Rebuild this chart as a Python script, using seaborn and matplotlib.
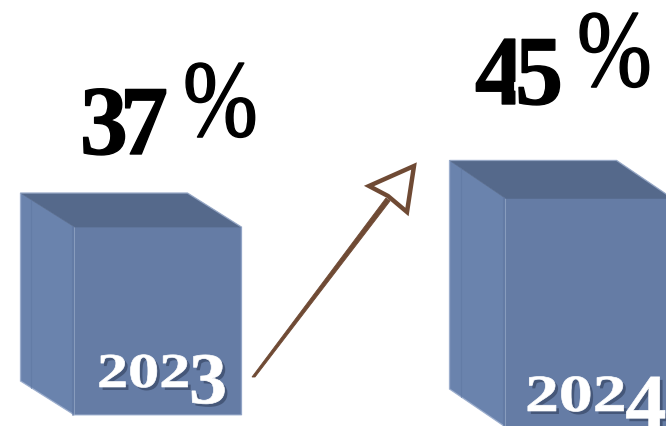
import matplotlib
matplotlib.use("Agg")
import matplotlib.pyplot as plt
import seaborn as sns
import pandas as pd
from matplotlib.colors import to_rgba
from matplotlib.patches import Polygon
from matplotlib.path import Path
from matplotlib.patheffects import AbstractPathEffect
from matplotlib.transforms import Affine2D

# Data
years = ["2023", "2024"]
shares = [37, 45]

# Layout, in reference pixels
W, H = 666, 427
PX_PER_UNIT = 5.08
PX_PER_CAT = 431
BAR_LEFT = 158
BASELINE = [416, 428]
DEPTH_X = [54, 56]
DEPTH_Y = [34, 38]
FRONT, TOP, SIDE, EDGE = "#657ca5", "#55698b", "#6a83ad", "#a5b6d4"
BROWN = "#6f4a34"


class Glyphs(AbstractPathEffect):
    # reshapes the text outline: stretch, tight digits, hanging last digit
    def __init__(self, sx=1.0, sy=1.0, overlap=0.0, tail=False, dx=0, dy=0,
                 color=None, alpha=1.0, stroke=0.0):
        self.sx, self.sy, self.overlap, self.tail = sx, sy, overlap, tail
        self.dx, self.dy, self.stroke = dx, dy, stroke
        self.color, self.alpha = color, alpha

    def draw_path(self, renderer, gc, tpath, affine, rgbFace=None):
        verts = tpath.vertices.copy()
        xmax = verts[:, 0].max()
        if self.overlap:
            verts[verts[:, 0] > xmax * 0.49, 0] -= self.overlap
        if self.tail:
            last = verts[:, 0] > xmax * 0.75
            h = verts[:, 1].max()
            verts[last, 1] = verts[last, 1] * 1.5 - 0.5 * h
            left = verts[last, 0].min()
            verts[last, 0] = left - 2 + (verts[last, 0] - left) * 1.22
        verts[:, 0] *= self.sx
        verts[:, 1] *= self.sy
        tr = affine + Affine2D().translate(self.dx, -self.dy)
        gc2 = renderer.new_gc()
        gc2.copy_properties(gc)
        gc2.set_alpha(self.alpha)
        face = to_rgba(self.color) if self.color else rgbFace
        gc2.set_linewidth(self.stroke)
        if self.stroke:
            gc2.set_foreground(face)
        renderer.draw_path(gc2, Path(verts, tpath.codes), tr, face)
        gc2.restore()


df = pd.DataFrame({"year": years, "share": shares})

sns.set_style("white")
fig, ax = plt.subplots(figsize=(W / 100, H / 100), dpi=100)
ax.set_position([0, 0, 1, 1])

sns.barplot(data=df, x="year", y="share", color=FRONT, saturation=1,
            width=167 / PX_PER_CAT, linewidth=0, ax=ax, zorder=2)
ax.set_xlim(-BAR_LEFT / PX_PER_CAT, (W - BAR_LEFT) / PX_PER_CAT)
ax.set_ylim((416 - H) / PX_PER_UNIT, 416 / PX_PER_UNIT)
ax.axis("off")

# pixel coordinates of the reference, y pointing down
PX = Affine2D().scale(1, -1).translate(0, H)

# side and top faces follow the bars the library drew
for i, bar in enumerate(list(ax.patches)):
    bar.set_y((416 - BASELINE[i]) / PX_PER_UNIT)
    x0, x1 = bar.get_x(), bar.get_x() + bar.get_width()
    y0, y1 = bar.get_y(), bar.get_y() + bar.get_height()
    dx = DEPTH_X[i] / PX_PER_CAT
    dy = DEPTH_Y[i] / PX_PER_UNIT
    ax.add_patch(Polygon([(x0 - dx, y1 + dy), (x0, y1), (x0, y0), (x0 - dx, y0 + dy)],
                         fc=SIDE, ec=SIDE, lw=0.4, zorder=3))
    ax.add_patch(Polygon([(x0 - dx, y1 + dy), (x1 - dx, y1 + dy), (x1, y1), (x0, y1)],
                         fc=TOP, ec=TOP, lw=0.4, zorder=3))
    # soft outline round the whole box
    ax.add_patch(Polygon([(x0 - dx, y1 + dy), (x1 - dx, y1 + dy), (x1, y1), (x1, y0),
                          (x0, y0), (x0 - dx, y0 + dy)],
                         fc="none", ec=EDGE, lw=1.0, alpha=0.7, zorder=4))
    # faint seam running down the side face
    ax.plot([x0 - dx * 0.8, x0 - dx * 0.8], [y1 + dy * 0.8, y0 + dy * 0.8],
            color="#5f78a2", lw=0.8, alpha=0.6, zorder=4)
    # slightly darker strip where side meets front
    ax.plot([x0 - 0.003, x0 - 0.003], [y0, y1], color="#5f76a0", lw=1.5, alpha=0.6, zorder=4)

# values and percent signs
value_pos = [(80, 155), (475, 105)]
pct_pos = [(183, 137), (577, 87)]
for share, (vx, vy), (px, py) in zip(shares, value_pos, pct_pos):
    ax.text(vx, vy, str(share), transform=PX, family="Liberation Serif", weight="bold",
            fontsize=71, color="black", zorder=6,
            path_effects=[Glyphs(overlap=8, sx=0.97, stroke=1.0)])
    ax.text(px, py, "%", transform=PX, family="Liberation Serif",
            fontsize=76, color="black", zorder=6,
            path_effects=[Glyphs(sx=0.85, sy=1.04, stroke=1.0)])

# year labels sitting on the front faces
label_pos = [(97, 388, 35, 1.28), (525, 412, 37.5, 1.3)]
for year, (lx, ly, size, sx) in zip(years, label_pos):
    ax.text(lx, ly, year, transform=PX, family="Liberation Serif", weight="bold",
            fontsize=size, color="white", zorder=7,
            path_effects=[Glyphs(sx=sx, tail=True, dx=3, dy=3, color="#2c3a55", alpha=0.55),
                          Glyphs(sx=sx, tail=True, stroke=0.5)])

# hand drawn arrow between the two boxes
ax.add_patch(Polygon([(252, 378), (386, 199), (390, 202), (255, 378)], transform=PX,
                     fc=BROWN, ec=BROWN, lw=0.6, zorder=5))
ax.add_patch(Polygon([(414, 167), (369, 187), (388, 197), (407, 213)], transform=PX,
                     fc="white", ec=BROWN, lw=3.2, joinstyle="miter", zorder=5))

plt.savefig("out.png", dpi=100)
